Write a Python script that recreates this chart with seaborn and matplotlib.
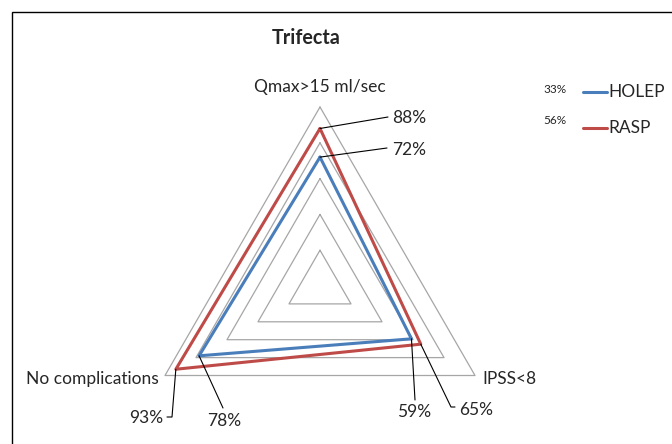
import numpy as np
import pandas as pd
import matplotlib
matplotlib.use('Agg')
import matplotlib.pyplot as plt
import seaborn as sns
from matplotlib.patches import Rectangle

sns.set_theme(style='white')
plt.rcParams['font.family'] = ['Lato', 'DejaVu Sans']

# data
axes_names = ['Qmax>15 ml/sec', 'IPSS<8', 'No complications']
holep = [0.72, 0.59, 0.78]
rasp = [0.88, 0.65, 0.93]
series_names = ['HOLEP', 'RASP']
legend_notes = ['33%', '56%']
grid_levels = [0.2, 0.4, 0.6, 0.8, 1.0]

colors = {'HOLEP': '#4a7ebb', 'RASP': '#be4b48'}

# layout in pixels (center of the radar, radius of 100%)
W, H = 672, 444
cx, cy, R = 320, 286, 179
angles = np.deg2rad([90, -30, 210])


def px(x, y):
    # pixel position -> data coords
    return (x - cx) / R, (cy - y) / R


def polar_xy(r, i):
    return r * np.cos(angles[i]), r * np.sin(angles[i])


rows = []
for name, vals in zip(series_names, [holep, rasp]):
    for k, i in enumerate([0, 1, 2, 0]):
        x, y = polar_xy(vals[i], i)
        rows.append({'series': name, 'order': k, 'axis': axes_names[i],
                     'value': vals[i], 'x': x, 'y': y})
df = pd.DataFrame(rows)

fig = plt.figure(figsize=(W / 100, H / 100), dpi=100)
ax = fig.add_axes([0, 0, 1, 1])
ax.set_xlim(px(0, 0)[0], px(W, 0)[0])
ax.set_ylim(px(0, H)[1], px(0, 0)[1])
ax.axis('off')

# triangular grid
for lev in grid_levels:
    pts = np.array([polar_xy(lev, i) for i in [0, 1, 2, 0]])
    ax.plot(pts[:, 0], pts[:, 1], color='#a6a6a6', lw=0.9, zorder=1)

sns.lineplot(data=df, x='x', y='y', hue='series', palette=colors, sort=False,
             estimator=None, units='series', lw=2.2, legend=False, ax=ax, zorder=3)

# axis labels
fs = 12.5
ax.text(*px(320, 87), axes_names[0], ha='center', va='center', fontsize=fs)
ax.text(*px(482, 379), axes_names[1], ha='left', va='center', fontsize=fs)
ax.text(*px(159, 379), axes_names[2], ha='right', va='center', fontsize=fs)

# value labels with leader lines: (series, axis idx, line end px, elbow px, text px, ha)
callouts = [
    ('RASP', 0, (388, 117), None, (392, 118), 'left'),
    ('HOLEP', 0, (387, 148), None, (392, 150), 'left'),
    ('RASP', 2, (172, 417), (167, 417), (163, 418), 'right'),
    ('HOLEP', 2, (223, 408), None, (224, 421), 'center'),
    ('HOLEP', 1, (415, 400), None, (414, 412), 'center'),
    ('RASP', 1, (451, 407), (455, 407), (459, 410), 'left'),
]
vals_by = {'HOLEP': holep, 'RASP': rasp}
for s, i, end, elbow, tpos, ha in callouts:
    v = vals_by[s][i]
    x0, y0 = polar_xy(v, i)
    xs, ys = [x0, px(*end)[0]], [y0, px(*end)[1]]
    if elbow is not None:
        xs.append(px(*elbow)[0])
        ys.append(px(*elbow)[1])
    ax.plot(xs, ys, color='black', lw=0.8, zorder=4)
    ax.text(*px(*tpos), f'{round(v * 100)}%', ha=ha, va='center', fontsize=fs)

# title
ax.text(*px(306, 38), 'Trifecta', ha='center', va='center', fontsize=14.2, fontweight='bold')

# legend
for k, name in enumerate(series_names):
    yl = 92 + k * 36
    ax.plot([px(583, 0)[0], px(607, 0)[0]], [px(0, yl)[1]] * 2, color=colors[name], lw=2.2)
    ax.text(*px(608, yl), name, ha='left', va='center', fontsize=fs)
    ax.text(*px(543, 90 + k * 31), legend_notes[k], ha='left', va='center', fontsize=8.5)

# chart frame
fig.patches.append(Rectangle((11.5 / W, -0.1), 2, 1.1 - 12.5 / H, transform=fig.transFigure,
                             fill=False, ec='black', lw=1.0))

fig.savefig('out.png', dpi=100)
